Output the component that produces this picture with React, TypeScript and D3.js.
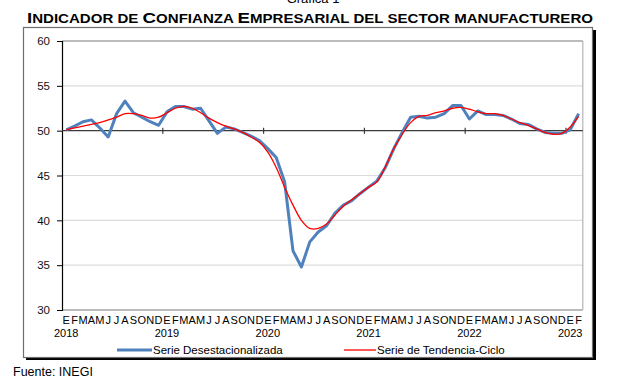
import { useEffect, useRef } from 'react';
import * as d3 from 'd3';

const titulo = 'Indicador de Confianza Empresarial del sector manufacturero';
const years = ['2018', '2019', '2020', '2021', '2022', '2023'];
const months = ['E', 'F', 'M', 'A', 'M', 'J', 'J', 'A', 'S', 'O', 'N', 'D'];
const yTicks = [30, 35, 40, 45, 50, 55, 60];

// Serie desestacionalizada, ene 2018 - feb 2023
const desestacionalizada = [
    50.1, 50.5, 51.0, 51.2, 50.3, 49.3, 51.9, 53.3, 52.0, 51.5, 51.0, 50.6,
    52.1, 52.7, 52.7, 52.4, 52.5, 51.1, 49.7, 50.4, 50.2, 49.8, 49.4, 48.9,
    48.0, 47.0, 44.3, 36.6, 34.8, 37.6, 38.7, 39.4, 40.8, 41.7, 42.2, 43.0,
    43.7, 44.4, 45.9, 48.0, 49.8, 51.5, 51.6, 51.4, 51.5, 51.9, 52.8, 52.8,
    51.3, 52.2, 51.8, 51.8, 51.7, 51.3, 50.8, 50.7, 50.2, 49.8, 49.7, 49.7,
    50.1, 51.9,
];

// Serie de tendencia-ciclo
const tendenciaCiclo = [
    50.1, 50.3, 50.5, 50.7, 50.9, 51.2, 51.5, 51.9, 51.9, 51.7, 51.4, 51.5,
    52.0, 52.5, 52.7, 52.5, 52.0, 51.4, 50.9, 50.5, 50.2, 49.8, 49.3, 48.7,
    47.6, 45.9, 43.7, 41.7, 40.0, 39.1, 39.1, 39.6, 40.6, 41.6, 42.3, 43.0,
    43.7, 44.3, 46.0, 48.0, 49.6, 50.9, 51.6, 51.7, 52.0, 52.2, 52.5, 52.6,
    52.4, 52.1, 51.9, 51.9, 51.7, 51.3, 50.9, 50.6, 50.2, 49.8, 49.6, 49.7,
    50.4, 51.6,
];

const BLUE = '#4f81bd';
const RED = '#ff0000';
const FONT = 'Liberation Sans, Arial, sans-serif';

const App = () => {
    const chartRef = useRef<SVGSVGElement>(null);

    useEffect(() => {
        const width = 623;
        const height = 384;
        const marginLeft = 62;
        const plotRight = 582.8;
        const plotTop = 41;
        const plotBottom = 310;

        const svg = d3.select(chartRef.current);
        svg.selectAll('*').remove();
        svg.attr('width', width).attr('height', height).attr('viewBox', [0, 0, width, height]);

        const cats = desestacionalizada.map((_, i) => i);

        const x = d3.scaleBand<number>()
            .domain(cats)
            .range([marginLeft, plotRight]);
        const cx = (i: number) => (x(i) as number) + x.bandwidth() / 2;

        const y = d3.scaleLinear()
            .domain([30, 60])
            .range([plotBottom, plotTop]);

        // "Gráfica 1" (cortado arriba)
        svg.append('text')
            .attr('x', 313).attr('y', 3)
            .attr('text-anchor', 'middle')
            .attr('font-family', FONT).attr('font-size', 13)
            .text('Gráfica 1');

        // titulo en versalitas
        const t = svg.append('text')
            .attr('x', 310).attr('y', 23)
            .attr('text-anchor', 'middle')
            .attr('font-family', FONT).attr('font-weight', 'bold')
            .attr('textLength', 566).attr('lengthAdjust', 'spacingAndGlyphs');
        titulo.split('').forEach(ch => {
            const big = ch !== ' ' && ch === ch.toUpperCase();
            t.append('tspan')
                .attr('font-size', big ? 15.5 : 12.5)
                .text(ch.toUpperCase());
        });

        // marco con sombra
        svg.append('rect')
            .attr('x', 26).attr('y', 30).attr('width', 570).attr('height', 330)
            .attr('fill', '#000');
        svg.append('rect')
            .attr('x', 23.5).attr('y', 27.5).attr('width', 569).attr('height', 330)
            .attr('fill', '#fff').attr('stroke', '#6f6f6f').attr('stroke-width', 1.2);

        // rejilla
        svg.append('g')
            .selectAll('line')
            .data(yTicks.filter(d => d !== 50))
            .join('line')
            .attr('x1', marginLeft).attr('x2', plotRight)
            .attr('y1', d => y(d)).attr('y2', d => y(d))
            .attr('stroke', d => (d === 60 || d === 30) ? '#a6a6a6' : '#dcdcdc')
            .attr('stroke-width', d => (d === 60 || d === 30) ? 1.3 : 1.2);

        svg.append('line')
            .attr('x1', plotRight).attr('x2', plotRight)
            .attr('y1', plotTop).attr('y2', plotBottom)
            .attr('stroke', '#b4b4b4').attr('stroke-width', 1.2);

        // eje Y
        svg.append('g')
            .attr('transform', `translate(${marginLeft},0)`)
            .call(d3.axisLeft(y).tickValues(yTicks).tickSize(5).tickPadding(7))
            .call(g => g.select('.domain').attr('stroke', '#000').attr('stroke-width', 1.2))
            .call(g => g.selectAll('.tick line').attr('stroke', '#000'))
            .call(g => g.selectAll('.tick text')
                .attr('font-family', FONT).attr('font-size', 11.5).attr('fill', '#111'));

        // eje X cruzando en 50
        svg.append('line')
            .attr('x1', marginLeft).attr('x2', plotRight)
            .attr('y1', y(50)).attr('y2', y(50))
            .attr('stroke', '#3a3a3a').attr('stroke-width', 1.4);
        svg.append('g')
            .selectAll('line')
            .data(cats.filter(i => i % 12 === 0 && i > 0))
            .join('line')
            .attr('x1', i => x(i) as number).attr('x2', i => x(i) as number)
            .attr('y1', y(50) - 3).attr('y2', y(50) + 3)
            .attr('stroke', '#3a3a3a').attr('stroke-width', 1.2);

        // etiquetas de meses y años
        const labels = svg.append('g')
            .attr('font-family', FONT).attr('font-size', 11).attr('fill', '#000')
            .attr('text-anchor', 'middle');
        labels.selectAll('text.mes')
            .data(cats)
            .join('text')
            .attr('class', 'mes')
            .attr('x', cx)
            .attr('y', 324)
            .text(i => months[i % 12]);
        labels.selectAll('text.anio')
            .data(cats.filter(i => i % 12 === 0))
            .join('text')
            .attr('class', 'anio')
            .attr('x', cx)
            .attr('y', 337)
            .text(i => years[Math.floor(i / 12)]);

        // series
        const linea = d3.line<number>()
            .x((_, i) => cx(i))
            .y(d => y(d));

        svg.append('path')
            .datum(desestacionalizada)
            .attr('fill', 'none')
            .attr('stroke', BLUE)
            .attr('stroke-width', 3)
            .attr('stroke-linejoin', 'round')
            .attr('d', linea);

        svg.append('path')
            .datum(tendenciaCiclo)
            .attr('fill', 'none')
            .attr('stroke', RED)
            .attr('stroke-width', 1.3)
            .attr('d', linea.curve(d3.curveCatmullRom));

        // leyenda
        const leg = svg.append('g').attr('font-family', FONT).attr('font-size', 11.5);
        leg.append('line')
            .attr('x1', 117).attr('x2', 152).attr('y1', 350).attr('y2', 350)
            .attr('stroke', BLUE).attr('stroke-width', 3);
        leg.append('text').attr('x', 153).attr('y', 354).text('Serie Desestacionalizada');
        leg.append('line')
            .attr('x1', 344).attr('x2', 376).attr('y1', 350).attr('y2', 350)
            .attr('stroke', RED).attr('stroke-width', 1.3);
        leg.append('text').attr('x', 377).attr('y', 354).text('Serie de Tendencia-Ciclo');

        // fuente
        svg.append('text')
            .attr('x', 13).attr('y', 376)
            .attr('font-family', FONT).attr('font-size', 12.5)
            .text('Fuente: INEGI');
    }, []);

    return <svg ref={chartRef} style={{ position: 'absolute', left: 0, top: 0 }} />;
};

export default App;
